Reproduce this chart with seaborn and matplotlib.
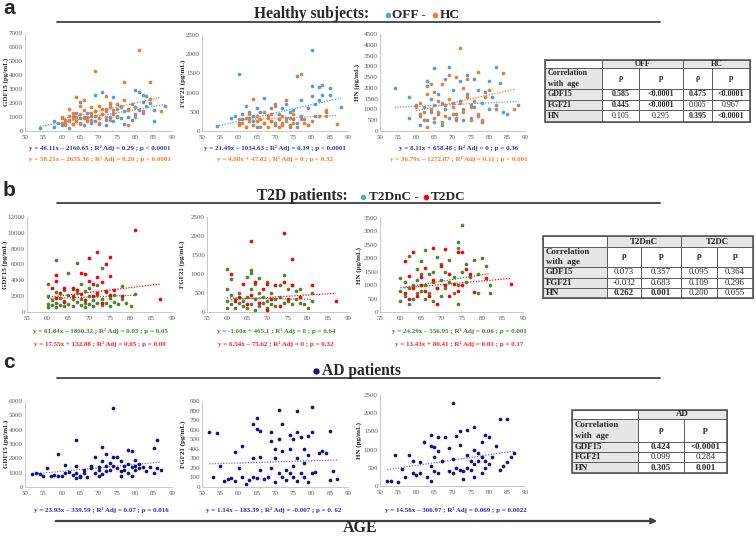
import numpy as np
import pandas as pd
import matplotlib
matplotlib.use('Agg')
import matplotlib.pyplot as plt
import seaborn as sns
from matplotlib.patches import Rectangle

# points: (age, concentration pg/mL)
off_gdf15 = [(54, 250), (58, 300), (58, 700), (59, 550), (60, 400), (60, 900), (61, 600), (62, 250), (62, 800),
             (63, 500), (63, 1100), (64, 700), (64, 1300), (65, 900), (65, 2100), (65, 600), (66, 400), (66, 1000),
             (67, 800), (67, 1300), (68, 600), (68, 1100), (69, 2600), (69, 700), (69, 1400), (70, 500), (70, 900),
             (71, 2800), (71, 1200), (72, 800), (72, 1600), (72, 450), (73, 1000), (73, 1900), (74, 2400), (74, 700),
             (74, 1300), (75, 1100), (75, 1600), (76, 900), (76, 1800), (77, 500), (77, 1400), (78, 1000), (78, 1600),
             (79, 800), (79, 1900), (80, 2900), (80, 1200), (80, 1700), (81, 1500), (81, 2800), (82, 1300), (82, 2600),
             (82, 2100), (83, 2500), (83, 1800), (84, 2000), (85, 1500), (85, 700), (88, 1800)]
hc_gdf15 = [(60, 600), (60, 1000), (61, 800), (61, 400), (62, 1100), (62, 700), (62, 1600), (63, 900), (63, 500),
            (63, 1300), (64, 2400), (64, 1000), (64, 700), (65, 1800), (65, 1200), (65, 500), (66, 2200), (66, 900),
            (66, 1500), (67, 1000), (67, 700), (68, 1300), (68, 1700), (68, 800), (69, 4300), (69, 1100), (69, 1400),
            (70, 1800), (70, 900), (70, 600), (71, 1600), (71, 1200), (72, 2500), (72, 1000), (72, 1400), (73, 2000),
            (73, 800), (73, 1700), (74, 1500), (74, 1200), (75, 1900), (75, 1000), (76, 1700), (77, 3500), (77, 2200),
            (78, 400), (78, 1500), (80, 1700), (80, 1000), (81, 5800), (82, 1400), (84, 3500), (84, 2300), (87, 1400)]
off_fgf21 = [(54, 120), (58, 350), (59, 400), (60, 1480), (60, 200), (61, 300), (61, 450), (62, 650), (62, 100),
             (63, 350), (63, 500), (64, 250), (64, 400), (65, 600), (65, 100), (66, 300), (66, 500), (67, 850),
             (67, 200), (68, 400), (69, 250), (69, 600), (70, 700), (70, 150), (71, 450), (71, 300), (72, 600),
             (72, 200), (73, 350), (73, 700), (74, 500), (74, 100), (75, 300), (75, 550), (76, 1420), (76, 200),
             (77, 800), (77, 400), (78, 300), (79, 600), (79, 150), (80, 2120), (80, 1180), (80, 900), (81, 700),
             (81, 400), (82, 1150), (82, 800), (83, 1200), (83, 950), (84, 500), (85, 1120), (85, 950), (88, 620)]
hc_fgf21 = [(60, 150), (60, 300), (61, 200), (62, 350), (62, 100), (63, 250), (63, 450), (64, 830), (64, 150),
            (65, 400), (65, 250), (66, 100), (66, 300), (67, 500), (67, 200), (68, 350), (68, 100), (69, 250),
            (69, 450), (70, 200), (70, 650), (71, 300), (71, 100), (72, 150), (72, 400), (73, 800), (73, 250),
            (74, 350), (74, 150), (75, 200), (75, 450), (76, 100), (77, 1480), (77, 300), (78, 200), (79, 150),
            (80, 250), (82, 400), (84, 550), (84, 400), (87, 180)]
off_hn = [(54, 2000), (58, 1600), (58, 600), (60, 1200), (61, 300), (61, 800), (62, 1100), (63, 2300), (63, 2100),
          (63, 500), (64, 1500), (64, 900), (65, 2900), (65, 1200), (65, 400), (66, 1700), (66, 800), (67, 1300),
          (67, 300), (68, 2400), (68, 1000), (69, 2950), (69, 600), (70, 1300), (70, 1900), (71, 800), (71, 500),
          (72, 2300), (72, 1400), (73, 1000), (73, 500), (74, 2600), (74, 1700), (75, 1200), (75, 600), (76, 2400),
          (76, 1100), (77, 700), (77, 1900), (78, 400), (78, 1300), (79, 1800), (80, 2300), (80, 1000), (81, 1600),
          (82, 2950), (82, 1200), (83, 2250), (84, 900), (85, 800), (88, 1200)]
hc_hn = [(60, 1100), (61, 700), (61, 1300), (62, 900), (62, 500), (63, 1700), (63, 200), (64, 2200), (64, 1000),
         (65, 1800), (65, 600), (66, 1400), (66, 900), (67, 2200), (67, 400), (68, 1200), (68, 700), (69, 2600),
         (69, 1500), (70, 800), (70, 1100), (71, 2500), (71, 600), (72, 3850), (72, 1300), (73, 2000), (73, 900),
         (74, 2400), (74, 1600), (75, 500), (75, 1100), (76, 1400), (77, 2750), (77, 800), (78, 500), (79, 1600),
         (80, 1900), (82, 1000), (84, 2700), (87, 1000)]

t2dnc_gdf15 = [(60, 3600), (60, 1000), (60, 2000), (60, 600), (61, 1500), (61, 900), (62, 6600), (62, 2500),
               (62, 1200), (62, 600), (63, 1800), (63, 900), (64, 2800), (64, 1400), (64, 700), (65, 4900), (65, 2200),
               (65, 1000), (66, 1600), (66, 700), (66, 2900), (67, 6200), (67, 1300), (67, 2400), (68, 3600), (68, 900),
               (68, 1700), (69, 1200), (69, 2700), (69, 600), (70, 2000), (70, 1000), (70, 3000), (71, 1500), (71, 800),
               (72, 3400), (72, 1200), (72, 2100), (73, 5600), (73, 1600), (73, 900), (74, 2500), (74, 1100), (75, 1800),
               (75, 700), (76, 1300), (76, 2200), (77, 1000), (78, 3300), (78, 1600), (79, 1100), (80, 800), (81, 2300)]
t2dc_gdf15 = [(61, 3000), (62, 4700), (62, 3900), (62, 1800), (63, 2400), (64, 3000), (64, 1300), (66, 3000),
              (66, 2000), (67, 2800), (68, 4900), (68, 2300), (69, 4800), (69, 1500), (70, 6800), (70, 3900), (71, 3600),
              (71, 2000), (72, 7600), (72, 4400), (72, 2400), (73, 3800), (73, 1100), (74, 6100), (74, 2700), (75, 6900),
              (75, 4600), (75, 2200), (76, 2800), (78, 2000), (81, 10300), (87, 1600)]
t2dnc_fgf21 = [(60, 1120), (60, 600), (60, 300), (60, 100), (61, 450), (61, 200), (61, 880), (62, 350), (62, 100),
               (63, 500), (63, 250), (64, 300), (64, 150), (65, 920), (65, 400), (65, 100), (66, 1100), (66, 1020),
               (66, 600), (66, 200), (67, 750), (67, 350), (67, 50), (68, 900), (68, 500), (68, 150), (69, 400),
               (69, 250), (70, 800), (70, 300), (70, 100), (71, 200), (71, 500), (72, 350), (72, 150), (73, 700),
               (73, 400), (74, 970), (74, 250), (75, 300), (75, 600), (76, 700), (76, 200), (77, 550), (77, 350),
               (78, 600), (78, 250), (79, 200), (80, 100), (81, 500), (81, 300)]
t2dc_fgf21 = [(61, 1000), (62, 300), (63, 400), (64, 750), (65, 200), (66, 1860), (66, 450), (67, 800), (68, 250),
              (69, 600), (70, 750), (70, 50), (71, 350), (72, 700), (73, 150), (74, 2080), (74, 800), (75, 350),
              (76, 1390), (76, 700), (78, 400), (81, 700), (87, 300)]
t2dnc_hn = [(60, 1250), (60, 800), (60, 400), (61, 1100), (61, 600), (62, 2100), (62, 900), (62, 300), (63, 1000),
            (63, 500), (64, 1600), (64, 1200), (64, 700), (65, 1900), (65, 1400), (65, 800), (66, 2300), (66, 1000),
            (66, 500), (67, 1400), (67, 700), (68, 1500), (68, 1100), (68, 400), (69, 2050), (69, 900), (70, 1800),
            (70, 1200), (70, 600), (71, 1500), (71, 900), (72, 1950), (72, 1100), (73, 1300), (73, 700), (74, 2600),
            (74, 2400), (74, 1000), (74, 300), (75, 3250), (75, 1500), (76, 1800), (76, 1100), (77, 1300), (78, 1950),
            (79, 1400), (79, 700), (80, 2000), (81, 1700), (82, 1000), (82, 700)]
t2dc_hn = [(61, 1900), (61, 700), (62, 1350), (62, 500), (63, 2250), (63, 900), (64, 600), (65, 1300), (65, 1000),
           (66, 1650), (66, 800), (67, 600), (68, 2400), (68, 1200), (69, 300), (69, 900), (70, 1700), (71, 2350),
           (71, 1000), (72, 1400), (72, 600), (73, 1050), (74, 2250), (74, 800), (75, 2250), (75, 1000), (76, 1600),
           (77, 1400), (78, 750), (81, 1250), (87, 1050)]

ad_gdf15 = [(52, 900), (53, 1000), (54, 900), (55, 800), (56, 1350), (57, 800), (58, 850), (59, 750), (59, 2300),
            (60, 800), (61, 1000), (61, 1550), (62, 1050), (63, 850), (64, 3300), (64, 1500), (64, 600), (64, 1000),
            (65, 700), (65, 800), (66, 1200), (66, 1000), (67, 700), (68, 1500), (68, 1300), (69, 2100), (69, 1000),
            (70, 1400), (70, 800), (70, 1200), (71, 2800), (71, 1800), (71, 900), (72, 2300), (72, 1500), (72, 1100),
            (73, 1700), (73, 1200), (74, 5500), (74, 2100), (74, 1500), (75, 2100), (75, 1300), (76, 1800), (76, 800),
            (76, 1100), (77, 1500), (77, 1200), (78, 2600), (78, 1600), (78, 1000), (79, 2500), (79, 1400), (79, 800),
            (80, 1900), (80, 1500), (80, 1200), (81, 1600), (81, 1300), (82, 1400), (83, 1100), (84, 1400),
            (85, 2700), (85, 1000), (86, 3300), (86, 1300), (87, 1200)]
ad_fgf21 = [(52, 580), (53, 100), (54, 560), (55, 220), (56, 60), (57, 80), (58, 90), (59, 370), (59, 60), (60, 200),
            (61, 430), (61, 100), (62, 30), (63, 70), (64, 660), (64, 300), (64, 100), (65, 720), (65, 610), (65, 90),
            (66, 590), (66, 310), (66, 180), (67, 80), (68, 100), (69, 580), (69, 480), (69, 200), (70, 400),
            (70, 300), (70, 50), (71, 810), (71, 500), (71, 150), (72, 660), (72, 380), (72, 100), (73, 180),
            (73, 70), (74, 540), (74, 400), (74, 150), (75, 500), (75, 220), (75, 100), (76, 800), (76, 580),
            (76, 300), (76, 60), (77, 520), (77, 150), (78, 400), (78, 250), (78, 100), (79, 530), (79, 340),
            (79, 50), (80, 840), (80, 580), (80, 150), (81, 160), (82, 360), (83, 380), (84, 360), (85, 590),
            (85, 70), (86, 170), (87, 80)]
ad_hn = [(52, 150), (53, 150), (54, 850), (55, 100), (56, 480), (57, 250), (58, 850), (59, 700), (59, 350),
         (60, 300), (61, 650), (61, 350), (62, 1200), (63, 250), (64, 1400), (64, 1100), (64, 550), (64, 150),
         (65, 1080), (65, 800), (65, 400), (66, 1350), (66, 950), (66, 350), (67, 700), (68, 1350), (69, 1050),
         (69, 400), (70, 2280), (70, 750), (70, 350), (71, 1380), (71, 500), (72, 1520), (72, 1120), (72, 450),
         (73, 400), (73, 200), (74, 1540), (74, 850), (74, 500), (75, 700), (75, 450), (76, 1620), (76, 1000),
         (76, 600), (76, 250), (77, 900), (77, 700), (78, 1200), (78, 800), (78, 350), (79, 1400), (79, 700),
         (79, 500), (80, 1350), (80, 600), (81, 800), (82, 1100), (83, 1830), (83, 450), (84, 550), (85, 1830),
         (85, 650), (86, 800), (87, 900)]

# fitted lines as drawn (slope, intercept)
trend_a = [[(46.11, -2160.65), (58.21, -2655.36)], [(21.49, -1034.63), (4.08, 47.82)], [(8.11, 658.48), (36.79, -1272.87)]]
trend_b = [[(20.0, 500.0), (61.84, -1860.32)], [(-1.60, 465.1), (6.54, -75.62)], [(24.29, -556.95), (13.43, 80.41)]]
trend_c = [(23.93, -339.59), (1.14, 183.39), (14.56, -306.97)]

eq_a = [('y = 46.11x – 2160.65 ; R² Adj = 0.29 ; p < 0.0001', 'y = 58.21x – 2655.36 ; R² Adj = 0.20 ; p < 0.0001'),
        ('y = 21.49x – 1034.63 ; R² Adj = 0.19 ; p < 0.0001', 'y = 4.08x + 47.82 ; R² Adj = 0 ; p = 0.32'),
        ('y = 8.11x + 658.48 ; R² Adj = 0 ; p = 0.36', 'y = 36.79x – 1272.87 ; R² Adj = 0.11 ; p < 0.001')]
eq_b = [('y = 61.84x – 1860.32 ; R² Adj = 0.03 ; p = 0.05', 'y = 17.55x + 132.88 ; R² Adj = 0.05 ; p = 0.09'),
        ('y = -1.60x + 465.1 ; R² Adj = 0 ; p = 0.64', 'y = 6.54x – 75.62 ; R² Adj = 0 ; p = 0.32'),
        ('y = 24.29x – 556.95 ; R² Adj = 0.06 ; p = 0.001', 'y = 13.43x + 80.41 ; R² Adj = 0.01 ; p = 0.17')]
eq_c = ['y = 23.93x – 339.59 ; R² Adj = 0.07 ; p = 0.016', 'y = 1.14x – 183.39 ; R² Adj = -0.007 ; p = 0. 62',
        'y = 14.56x – 306.97 ; R² Adj = 0.069 ; p = 0.0022']

markers = ['GDF15', 'FGF21', 'HN']
ylabels = ['GDF15 (pg/mL)', 'FGF21 (pg/mL)', 'HN (pg/mL)']
tab_a_groups = ['OFF', 'HC']
tab_a_vals = [['0.585', '<0.0001', '0.475', '<0.0001'], ['0.445', '<0.0001', '0.005', '0.967'],
              ['0.105', '0.295', '0.395', '<0.0001']]
tab_a_bold = [[1, 1, 1, 1], [1, 1, 0, 0], [0, 0, 1, 1]]
tab_b_groups = ['T2DnC', 'T2DC']
tab_b_vals = [['0.073', '0.357', '0.095', '0.364'], ['-0.032', '0.683', '0.109', '0.296'],
              ['0.262', '0.001', '0.200', '0.055']]
tab_b_bold = [[0, 0, 0, 0], [0, 0, 0, 0], [1, 1, 0, 0]]
tab_c_groups = ['AD']
tab_c_vals = [['0.424', '<0.0001'], ['0.099', '0.284'], ['0.305', '0.001']]
tab_c_bold = [[1, 1], [0, 0], [1, 1]]

# colours
c_off, c_hc = '#5B9BD5', '#ED7D31'
c_nc, c_dc = '#548235', '#FF0000'
c_ad = '#12128F'
c_teal = '#4BACC6'

sns.set_theme(style='white')
plt.rcParams['font.family'] = ['Liberation Serif', 'DejaVu Serif']

W, H = 756, 536
fig = plt.figure(figsize=(W / 100, H / 100), dpi=100)


def box(l, t, r, b):
    return [l / W, 1 - b / H, (r - l) / W, (b - t) / H]


def panel(pos, groups, ymax, ystep, xmin, ylabel, lab_x):
    ax = fig.add_axes(box(*pos))
    for pts, color, (slope, icpt), lcolor in groups:
        df = pd.DataFrame(pts, columns=['age', 'val'])
        sns.scatterplot(data=df, x='age', y='val', color=color, s=7, linewidth=0, ax=ax, zorder=3)
        xs = np.linspace(df['age'].min(), df['age'].max(), 30)
        ax.plot(xs, slope * xs + icpt, ls=(0, (1, 1.2)), color=lcolor, lw=0.9, zorder=2)
    ax.set_xlim(xmin, 90)
    ax.set_ylim(0, ymax)
    ax.set_xticks(np.arange(xmin, 91, 5))
    ax.set_yticks(np.arange(0, ymax + 1, ystep))
    ax.set_xlabel('')
    ax.set_ylabel(ylabel, fontsize=5, fontweight='bold')
    # put the rotated label where it sits in the original
    ax.yaxis.set_label_coords((lab_x + 3.5 - pos[0]) / (pos[2] - pos[0]), 0.5)
    for side in ['top', 'right']:
        ax.spines[side].set_visible(False)
    for side in ['left', 'bottom']:
        ax.spines[side].set_color('#BFBFBF')
        ax.spines[side].set_linewidth(0.6)
    ax.tick_params(axis='both', labelsize=5, colors='#595959', length=1.5, width=0.5, pad=1.5)
    ax.tick_params(axis='y', length=0)
    ax.patch.set_alpha(0)
    return ax


# row a
panel((25, 33, 172, 131), [(off_gdf15, c_off, trend_a[0][0], c_off), (hc_gdf15, c_hc, trend_a[0][1], c_hc)],
      7000, 1000, 50, ylabels[0], 6)
panel((202, 35, 348, 131), [(off_fgf21, c_off, trend_a[1][0], c_off), (hc_fgf21, c_hc, trend_a[1][1], c_hc)],
      2500, 500, 50, ylabels[1], 182)
panel((380, 34, 525, 131), [(off_hn, c_off, trend_a[2][0], c_off), (hc_hn, c_hc, trend_a[2][1], c_hc)],
      4500, 500, 50, ylabels[2], 357)
# row b
panel((27, 217, 172, 312), [(t2dnc_gdf15, c_nc, trend_b[0][0], c_nc), (t2dc_gdf15, c_dc, trend_b[0][1], c_dc)],
      12000, 2000, 55, ylabels[0], 5)
panel((207, 217, 348, 312), [(t2dnc_fgf21, c_nc, trend_b[1][0], c_nc), (t2dc_fgf21, c_dc, trend_b[1][1], c_dc)],
      2500, 500, 55, ylabels[1], 181)
panel((380, 218, 523, 312), [(t2dnc_hn, c_nc, trend_b[2][0], c_nc), (t2dc_hn, c_dc, trend_b[2][1], c_dc)],
      3500, 500, 55, ylabels[2], 358)
# row c
panel((25, 401, 172, 487), [(ad_gdf15, c_ad, trend_c[0], '#7070D0')], 6000, 1000, 50, ylabels[0], 6)
panel((202, 401, 348, 487), [(ad_fgf21, c_ad, trend_c[1], '#7070D0')], 900, 100, 50, ylabels[1], 182)
panel((380, 395, 525, 486), [(ad_hn, c_ad, trend_c[2], '#7070D0')], 2500, 500, 50, ylabels[2], 359)

# overlay in pixel coordinates for titles, equations and tables
ov = fig.add_axes([0, 0, 1, 1])
ov.set_xlim(0, W)
ov.set_ylim(H, 0)
ov.axis('off')
ov.patch.set_alpha(0)

for lab, y in [('a', 9), ('b', 190), ('c', 363)]:
    ov.text(3, y, lab, fontsize=15, fontweight='bold', family=['Liberation Sans'], ha='left', va='center')

title_kw = dict(fontsize=11.2, fontweight='bold', va='baseline', ha='left')
leg_kw = dict(fontsize=9.5, fontweight='bold', va='baseline', ha='left')
ov.text(254, 18, 'Healthy subjects:', **title_kw)
ov.plot(388, 15, 'o', ms=3, color=c_teal)
ov.text(392, 18, 'OFF -', **leg_kw)
ov.plot(435, 15, 'o', ms=3, color=c_hc)
ov.text(440, 18, 'HC', **leg_kw)

ov.text(257, 200, 'T2D patients:', **title_kw)
ov.plot(363, 197, 'o', ms=3, color=c_teal)
ov.text(369, 200, 'T2DnC -', **leg_kw)
ov.plot(426, 197, 'o', ms=3, color=c_dc)
ov.text(431, 200, 'T2DC', **leg_kw)

ov.plot(316, 371, 'o', ms=3.5, color=c_ad)
ov.text(322, 375, 'AD patients', **title_kw)

for y in [22, 203, 378]:
    ov.plot([57, 660], [y, y], color='#404040', lw=1.3)

ov.annotate('', xy=(660, 521), xytext=(53, 521),
            arrowprops=dict(arrowstyle='-|>', color='#404040', lw=1.6, mutation_scale=8))
ov.text(360, 532, 'AGE', fontsize=11.5, fontweight='bold', ha='center', va='baseline')

# equations below each panel
eq_kw = dict(fontsize=5, fontweight='bold', ha='center', va='center')
for cx, (l1, l2) in zip([100, 275, 459], eq_a):
    ov.text(cx, 148, l1, color='#3030C0', **eq_kw)
    ov.text(cx, 159, l2, color='#F47A30', **eq_kw)
for cx, (l1, l2) in zip([100, 276, 459], eq_b):
    ov.text(cx, 331, l1, color='#3A8A2A', **eq_kw)
    ov.text(cx, 344, l2, color='#FF2020', **eq_kw)
for cx, l1 in zip([101, 274, 456], eq_c):
    ov.text(cx, 510, l1, color='#2B2BB8', **eq_kw)


def table(xs, ys, groups, vals, bold, fs):
    gray = '#E7E6E6'
    ov.add_patch(Rectangle((xs[1], ys[0]), xs[-1] - xs[1], ys[1] - ys[0], fc=gray, ec='none'))
    ov.add_patch(Rectangle((xs[0], ys[1]), xs[1] - xs[0], ys[-1] - ys[1], fc=gray, ec='none'))
    for y in ys:
        ov.plot([xs[0], xs[-1]], [y, y], color='#595959', lw=0.7)
    for i, x in enumerate(xs):
        y0 = ys[0] if (i == 0 or (i - 1) % 2 == 0) else ys[1]
        ov.plot([x, x], [y0, ys[-1]], color='#595959', lw=0.7)
    ov.add_patch(Rectangle((xs[0], ys[0]), xs[-1] - xs[0], ys[-1] - ys[0], fc='none', ec='#595959', lw=1.2))
    for k, g in enumerate(groups):
        ov.text((xs[1 + 2 * k] + xs[3 + 2 * k]) / 2, (ys[0] + ys[1]) / 2, g, fontsize=fs, fontweight='bold',
                ha='center', va='center')
        for j, sym in enumerate(['ρ', 'p']):
            ov.text((xs[1 + 2 * k + j] + xs[2 + 2 * k + j]) / 2, (ys[1] + ys[2]) / 2 - 1, sym, fontsize=fs,
                    fontweight='bold', ha='center', va='center')
    ov.text(xs[0] + 3, (ys[1] + ys[2]) / 2, 'Correlation\nwith  age', fontsize=fs, fontweight='bold',
            ha='left', va='center', linespacing=1.35)
    for r, name in enumerate(markers):
        yc = (ys[2 + r] + ys[3 + r]) / 2
        ov.text(xs[0] + 3, yc, name, fontsize=fs, fontweight='bold', ha='left', va='center')
        for c, v in enumerate(vals[r]):
            ov.text((xs[1 + c] + xs[2 + c]) / 2, yc, v, fontsize=fs, ha='center', va='center',
                    fontweight='bold' if bold[r][c] else 'normal')


table([545, 602, 639, 683, 712, 750], [60, 68, 89, 100, 110, 122], tab_a_groups, tab_a_vals, tab_a_bold, 5.8)
table([543, 607, 641, 681, 717, 753], [236, 247, 267, 278, 288, 298], tab_b_groups, tab_b_vals, tab_b_bold, 6.4)
table([572, 638, 684, 727], [410, 419, 442, 452, 462, 473], tab_c_groups, tab_c_vals, tab_c_bold, 6.4)

fig.savefig('out.png', dpi=100)
